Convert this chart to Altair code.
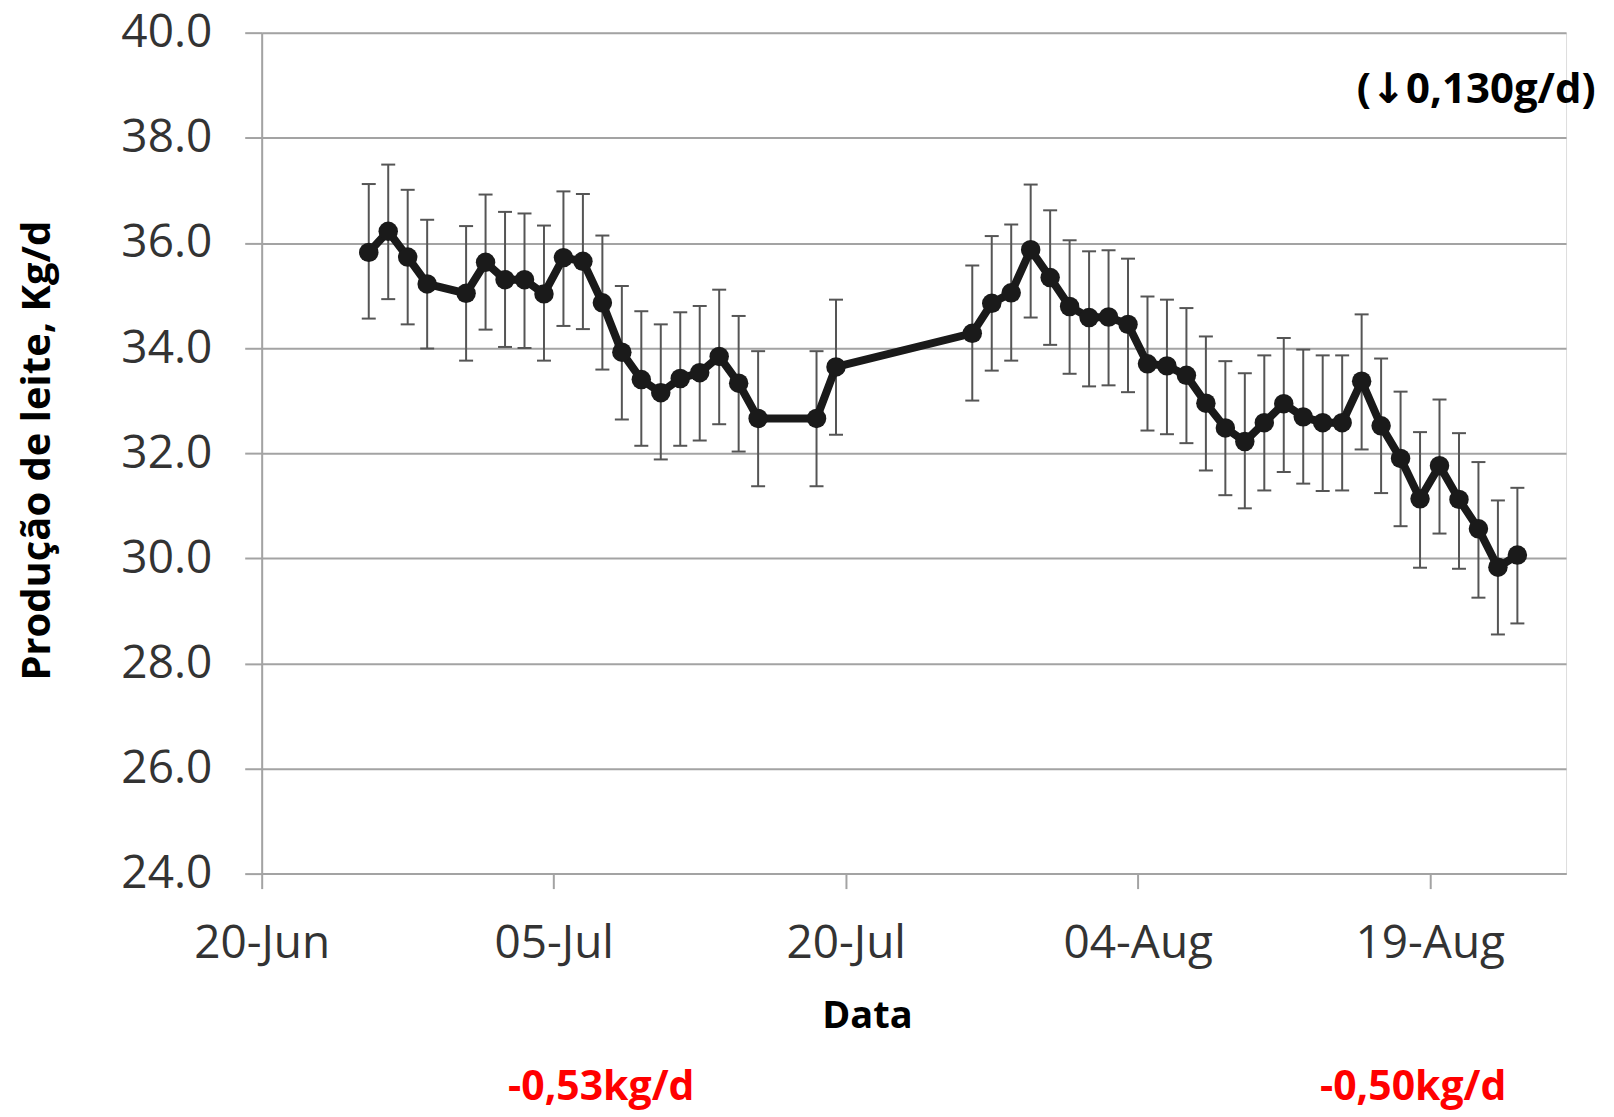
import altair as alt
import pandas as pd

# ---- data ----
dates = [
    "2013-06-25", "2013-06-26", "2013-06-27", "2013-06-28", "2013-06-30",
    "2013-07-01", "2013-07-02", "2013-07-03", "2013-07-04", "2013-07-05",
    "2013-07-06", "2013-07-07", "2013-07-08", "2013-07-09", "2013-07-10",
    "2013-07-11", "2013-07-12", "2013-07-13", "2013-07-14", "2013-07-15",
    "2013-07-18", "2013-07-19",
    "2013-07-26", "2013-07-27", "2013-07-28", "2013-07-29", "2013-07-30",
    "2013-07-31", "2013-08-01", "2013-08-02", "2013-08-03", "2013-08-04",
    "2013-08-05", "2013-08-06", "2013-08-07", "2013-08-08", "2013-08-09",
    "2013-08-10", "2013-08-11", "2013-08-12", "2013-08-13", "2013-08-14",
    "2013-08-15", "2013-08-16", "2013-08-17", "2013-08-18", "2013-08-19",
    "2013-08-20", "2013-08-21", "2013-08-22", "2013-08-23",
]
means = [
    35.82, 36.22, 35.73, 35.22, 35.04,
    35.63, 35.30, 35.30, 35.03, 35.72,
    35.65, 34.86, 33.92, 33.40, 33.15,
    33.42, 33.53, 33.84, 33.33, 32.66,
    32.66, 33.64,
    34.28, 34.85, 35.05, 35.87, 35.34,
    34.79, 34.58, 34.59, 34.45, 33.70,
    33.66, 33.48, 32.95, 32.48, 32.22,
    32.58, 32.94, 32.69, 32.58, 32.58,
    33.37, 32.52, 31.90, 31.13, 31.76,
    31.12, 30.56, 29.83, 30.06,
]
upper = [
    37.12, 37.49, 37.01, 36.44, 36.32,
    36.92, 36.59, 36.56, 36.33, 36.98,
    36.93, 36.14, 35.18, 34.70, 34.45,
    34.68, 34.80, 35.11, 34.61, 33.94,
    33.94, 34.92,
    35.57, 36.13, 36.35, 37.11, 36.62,
    36.05, 35.84, 35.86, 35.70, 34.98,
    34.92, 34.76, 34.22, 33.75, 33.52,
    33.86, 34.19, 33.97, 33.86, 33.86,
    34.64, 33.80, 33.17, 32.40, 33.02,
    32.38, 31.83, 31.10, 31.34,
]
lower = [
    34.56, 34.93, 34.45, 33.99, 33.76,
    34.35, 34.02, 34.00, 33.76, 34.42,
    34.36, 33.59, 32.64, 32.14, 31.88,
    32.14, 32.24, 32.55, 32.03, 31.37,
    31.37, 32.35,
    33.00, 33.57, 33.76, 34.58, 34.06,
    33.51, 33.27, 33.29, 33.16, 32.43,
    32.36, 32.19, 31.67, 31.20, 30.95,
    31.29, 31.64, 31.42, 31.28, 31.29,
    32.07, 31.24, 30.61, 29.82, 30.47,
    29.80, 29.25, 28.55, 28.76,
]
y_ticks = [24, 26, 28, 30, 32, 34, 36, 38, 40]
x_tick_dates = [(6, 20), (7, 5), (7, 20), (8, 4), (8, 19)]
x_domain = [(6, 20), (8, 26)]
y_title = "Produção de leite, Kg/d"
x_title = "Data"
note_top = ["(↓0,130g/d)"]
note_red = ["-0,53kg/d", "-0,50kg/d"]

df = pd.DataFrame({"date": dates, "mean": means, "upper": upper, "lower": lower})

GRID = "#a3a3a3"
ERR = "#555555"
INK = "#1a1a1a"
LABEL_FONT = "Open Sans"
NOTE_FONT = "'Open Sans', 'DejaVu Sans'"

x_scale = alt.Scale(domain=[alt.DateTime(year=2013, month=m, date=d, utc=True) for m, d in x_domain])
x_axis = alt.Axis(
    values=[alt.DateTime(year=2013, month=m, date=d, utc=True) for m, d in x_tick_dates],
    format="%d-%b", grid=False, labelFlush=False, labelOverlap=False,
    labelFont=LABEL_FONT, labelFontSize=46, labelColor="#333333", labelPadding=33,
    tickSize=15, tickWidth=2, tickColor=GRID, domainColor=GRID, domainWidth=2,
    title=x_title, titleFont=LABEL_FONT, titleFontSize=38, titleFontWeight="bold",
    titleColor="black", titleX=606, titleY=143, titleAlign="center", titleBaseline="middle",
)
y_scale = alt.Scale(domain=[24, 40], nice=False, zero=False)
y_axis = alt.Axis(
    values=y_ticks, format=".1f", grid=True, gridColor=GRID, gridWidth=2,
    labelFont=LABEL_FONT, labelFontSize=46, labelColor="#333333", labelPadding=33,
    tickSize=17, tickWidth=2, tickColor=GRID, domainColor=GRID, domainWidth=2,
    title=y_title, titleFont=LABEL_FONT, titleFontSize=40, titleFontWeight="bold",
    titleColor="black", titleX=-224, titleY=418, titleAngle=270,
    titleAlign="center", titleBaseline="middle",
)


def X():
    return alt.X("date:T", timeUnit="utcyearmonthdate", bandPosition=0.5,
                 scale=x_scale, axis=x_axis)


def Y(field):
    return alt.Y(f"{field}:Q", scale=y_scale, axis=y_axis)


base = alt.Chart(df)
err = base.mark_rule(color=ERR, strokeWidth=2).encode(x=X(), y=Y("lower"), y2="upper:Q")
cap_hi = base.mark_tick(orient="horizontal", size=14, thickness=2, color=ERR, opacity=1).encode(x=X(), y=Y("upper"))
cap_lo = base.mark_tick(orient="horizontal", size=14, thickness=2, color=ERR, opacity=1).encode(x=X(), y=Y("lower"))
line = base.mark_line(color=INK, strokeWidth=8).encode(x=X(), y=Y("mean"))
pts = base.mark_circle(size=380, color=INK, opacity=1).encode(x=X(), y=Y("mean"))

top_note = alt.Chart(pd.DataFrame({"t": note_top})).mark_text(
    font=NOTE_FONT, fontSize=42, fontWeight="bold", color="black",
    align="center", baseline="middle",
).encode(x=alt.value(1216), y=alt.value(57), text="t:N")

red_df = pd.DataFrame({"t": note_red, "px": [340, 1153]})
red_notes = alt.Chart(red_df).mark_text(
    font=LABEL_FONT, fontSize=41, fontWeight="bold", color="#ff0000",
    align="center", baseline="alphabetic",
).encode(x=alt.X("px:Q", scale=None), y=alt.value(1069), text="t:N")

chart = alt.layer(err, cap_hi, cap_lo, line, pts, top_note, red_notes).properties(
    width=1306, height=842,
    autosize=alt.AutoSizeParams(type="none"),
    padding={"left": 254, "top": 24, "right": 40, "bottom": 243},
).configure_view(strokeWidth=0).configure(background="white")

chart.save("out.html", embed_options={"renderer": "svg", "actions": False})
